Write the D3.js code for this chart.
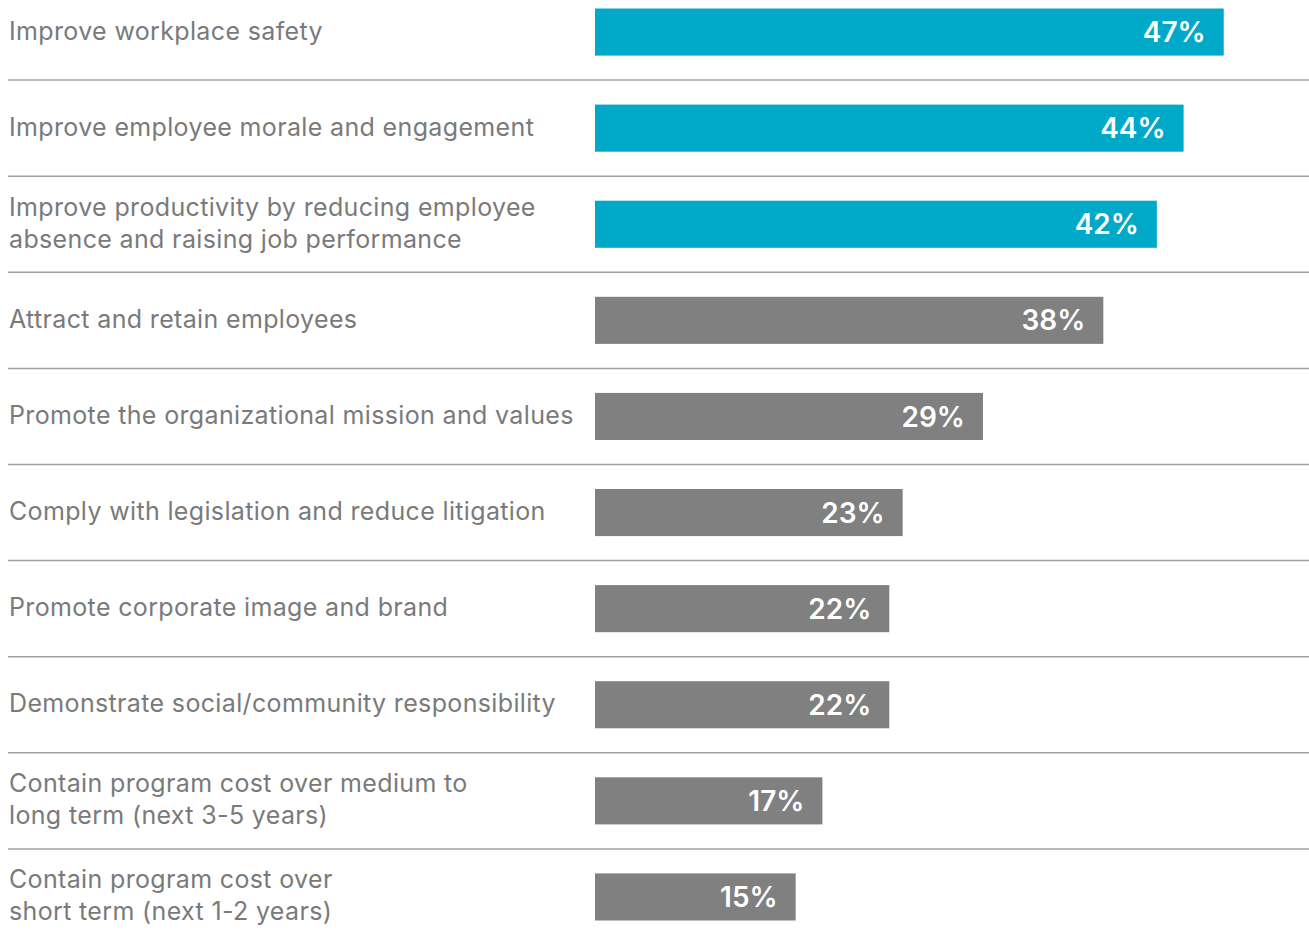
<!DOCTYPE html>
<html>
<head>
<meta charset="utf-8">
<script src="https://cdn.jsdelivr.net/npm/d3@7"></script>
<style>
  html, body { margin: 0; padding: 0; background: #ffffff; }
  svg { display: block; }
</style>
</head>
<body>
<div id="chart"></div>
<script>
const categories = [
  ["Improve workplace safety"],
  ["Improve employee morale and engagement"],
  ["Improve productivity by reducing employee", "absence and raising job performance"],
  ["Attract and retain employees"],
  ["Promote the organizational mission and values"],
  ["Comply with legislation and reduce litigation"],
  ["Promote corporate image and brand"],
  ["Demonstrate social/community responsibility"],
  ["Contain program cost over medium to", "long term (next 3-5 years)"],
  ["Contain program cost over", "short term (next 1-2 years)"]
];
const values = [47, 44, 42, 38, 29, 23, 22, 22, 17, 15];
const highlighted = [true, true, true, false, false, false, false, false, false, false];

const W = 1309, H = 934;
const svg = d3.select("#chart").append("svg").attr("width", W).attr("height", H);

const ids = categories.map((c, i) => i);
const y = d3.scaleBand().domain(ids).range([-16, 945]).paddingInner(0.51).paddingOuter(0.255);
const x = d3.scaleLinear().domain([0, 53]).range([595, 1304]);

const labelFont = "Inter, 'Open Sans', sans-serif";

// separators
const seps = ids.slice(0, -1);
svg.append("g").selectAll("line").data(seps).join("line")
  .attr("x1", 8).attr("x2", W)
  .attr("y1", i => (y(i) + y(i + 1)) / 2 + y.bandwidth() / 2)
  .attr("y2", i => (y(i) + y(i + 1)) / 2 + y.bandwidth() / 2)
  .attr("stroke", "#a0a0a0").attr("stroke-width", 1.5);

// bars
svg.append("g").selectAll("rect").data(ids).join("rect")
  .attr("x", x(0))
  .attr("y", i => y(i))
  .attr("width", i => x(values[i]) - x(0))
  .attr("height", y.bandwidth())
  .attr("fill", i => highlighted[i] ? "#00a9c8" : "#808080");

// value labels
svg.append("g").selectAll("text").data(ids).join("text")
  .attr("x", i => x(values[i]) - 18)
  .attr("y", i => y(i) + y.bandwidth() / 2)
  .attr("dy", "0.36em")
  .attr("text-anchor", "end")
  .attr("fill", "#ffffff")
  .attr("font-family", labelFont)
  .attr("font-weight", 600)
  .attr("font-size", 28)
  .text(i => values[i] + "%");

// category labels
const lineH = 32;
const lbl = svg.append("g").selectAll("text").data(ids).join("text")
  .attr("x", 9)
  .attr("fill", "#7a7a7a")
  .attr("font-family", labelFont)
  .attr("font-size", 25)
  .attr("letter-spacing", 0.35);
lbl.each(function(i) {
  const lines = categories[i];
  const cy = y(i) + y.bandwidth() / 2;
  const top = cy - (lines.length - 1) * lineH / 2;
  d3.select(this).selectAll("tspan").data(lines).join("tspan")
    .attr("x", 9)
    .attr("y", (d, k) => top + k * lineH)
    .attr("dy", "0.3em")
    .text(d => d);
});
</script>
</body>
</html>
